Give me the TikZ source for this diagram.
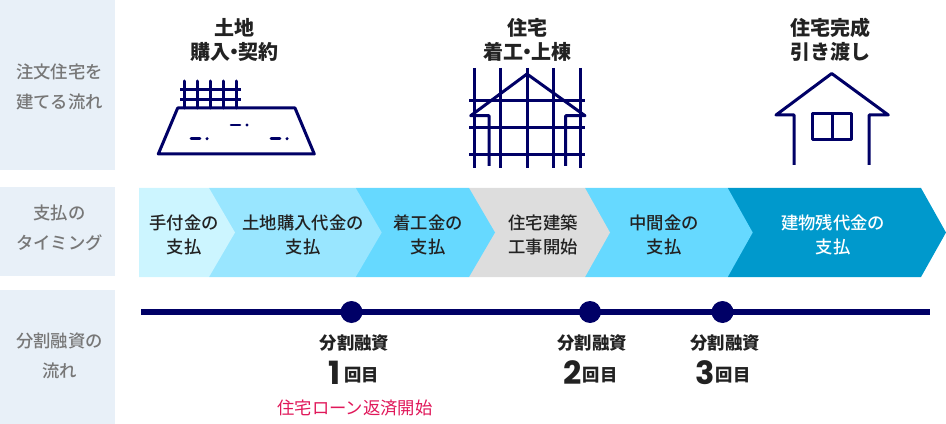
\documentclass[tikz,border=0pt]{standalone}
\usepackage{fontspec}
\usetikzlibrary{positioning}
\setmainfont{Noto Sans CJK JP}
\newfontfamily\medfont{Noto Sans CJK JP Medium}
\newfontfamily\numfont{Poppins}
\newcommand{\ndot}{\hspace{-4.5pt}・\hspace{-4.5pt}}
\definecolor{navy}{HTML}{000066}
\definecolor{sidebg}{HTML}{E8F0F8}
\definecolor{sidetxt}{HTML}{777777}
\definecolor{maintxt}{HTML}{222222}
\definecolor{loanred}{HTML}{E0185A}
\definecolor{pay1}{HTML}{CCF5FF}
\definecolor{pay2}{HTML}{99E6FF}
\definecolor{pay3}{HTML}{66D9FF}
\definecolor{pay4}{HTML}{DDDDDD}
\definecolor{pay5}{HTML}{0099CC}

\begin{document}
\begin{tikzpicture}[
			x=0.75pt, y=-0.75pt,
			side/.style = {align=center, inner sep=0pt, text=sidetxt, font=\fontsize{13}{22.5}\selectfont\medfont},
			head/.style = {align=center, inner sep=0pt, text=maintxt, font=\fontsize{15}{18}\selectfont\bfseries},
			pay/.style = {align=center, inner sep=0pt, text=maintxt, font=\fontsize{13}{18}\selectfont\medfont},
			loan/.style = {align=center, inner sep=0pt, text=maintxt, font=\fontsize{13}{16}\selectfont\bfseries},
			num/.style = {inner sep=0pt, text=maintxt, font=\fontsize{24}{24}\selectfont\numfont\bfseries},
			kai/.style = {inner sep=0pt, text=maintxt, font=\fontsize{13}{16}\selectfont\bfseries},
			dot/.style = {circle, fill=navy, inner sep=0pt, minimum size=22*0.75pt},
			icon/.style = {draw=navy, line width=2.25pt, line join=round},
			thin/.style = {draw=navy, line width=1.9pt, line cap=round}
		]
		\useasboundingbox (0,0) rectangle (946,424);

		% left column
		\fill[sidebg] (0,0) rectangle (115,170);
		\fill[sidebg] (0,187) rectangle (115,276);
		\fill[sidebg] (0,290) rectangle (115,424);
		\node[side] (flow) at (59.5,87) {注文住宅を\\建てる流れ};
		\node[side] (timing) at (59.5,228) {支払の\\タイミング};
		\node[side] (split) at (59.5,356) {分割融資の\\流れ};

		% headings
		\node[head] (land) at (234,40) {土地\\購入\ndot 契約};
		\node[head] (build) at (527,40) {住宅\\着工\ndot 上棟};
		\node[head] (done) at (830,40) {住宅完成\\引き渡し};

		% land
		\draw[icon] (177.7,108) -- (295,108) -- (314.3,154) -- (158.3,154) -- cycle;
		\draw[icon, line cap=round] (184,81) -- (184,108);
		\draw[icon, line cap=round] (197,81) -- (197,108);
		\draw[icon, line cap=round] (210,81) -- (210,108);
		\draw[icon, line cap=round] (223,81) -- (223,108);
		\draw[icon, line cap=round] (236,81) -- (236,108);
		\draw[icon] (180,89.5) -- (240.7,89.5);
		\draw[icon] (180,100) -- (240.7,100);
		\draw[thin] (231,125) -- (240,125);
		\fill[navy] (247,125) circle (1.7);
		\draw[thin] (191,138.7) -- (200,138.7);
		\fill[navy] (207,138.7) circle (1.7);
		\draw[thin] (271,138.7) -- (280,138.7);
		\fill[navy] (287,138.7) circle (1.7);

		% frame
		\draw[icon] (474.3,68) -- (474.3,168);
		\draw[icon] (500.7,68) -- (500.7,168);
		\draw[icon] (527,68) -- (527,168);
		\draw[icon] (553.3,68) -- (553.3,168);
		\draw[icon] (580,68) -- (580,168);
		\draw[icon] (469,100.7) -- (585,100.7);
		\draw[icon] (469,127.3) -- (585,127.3);
		\draw[icon] (469,154.3) -- (585,154.3);
		\draw[icon] (489,166) -- (489,115.7) -- (470.7,115.7) -- (527,74) -- (585,115.7) -- (565.7,115.7) -- (565.7,166);

		% house
		\draw[icon] (794,165) -- (794,115) -- (776,115) -- (831.7,73.5) -- (888.3,115) -- (869,115) -- (869,165);
		\draw[icon] (812.7,114) rectangle (851,140);
		\draw[icon] (832,114) -- (832,140);

		% payment band
		\fill[pay5] (727.7,188) -- (921,188) -- (946,232.5) -- (921,277) -- (727.7,277) -- cycle;
		\fill[pay3] (585,188) -- (727.7,188) -- (752.7,232.5) -- (727.7,277) -- (585,277) -- cycle;
		\fill[pay4] (469,188) -- (585,188) -- (610,232.5) -- (585,277) -- (469,277) -- cycle;
		\fill[pay3] (355.7,188) -- (469,188) -- (495,232.5) -- (469,277) -- (355.7,277) -- cycle;
		\fill[pay2] (209,188) -- (355.7,188) -- (381.7,232.5) -- (355.7,277) -- (209,277) -- cycle;
		\fill[pay1] (139,188) -- (209,188) -- (235,232.5) -- (209,277) -- (139,277) -- cycle;
		\node[pay] (p1) at (184,235) {手付金の\\支払};
		\node[pay] (p2) at (303,235) {土地購入代金の\\支払};
		\node[pay] (p3) at (428,235) {着工金の\\支払};
		\node[pay] (p4) at (543,235) {住宅建築\\工事開始};
		\node[pay] (p5) at (664,235) {中間金の\\支払};
		\node[pay, text=white] (p6) at (833,235) {建物残代金の\\支払};

		% loan line
		\coordinate (start) at (141,312);
		\coordinate (end) at (930,312);
		\draw[navy, line width=4.5pt] (start) -- (end);
		\node[dot] (d1) at (351.5,312) {};
		\node[dot] (d2) at (590,312) {};
		\node[dot] (d3) at (722.5,312) {};
		\node[loan] (l1) at (354.5,343) {分割融資};
		\node[loan] (l2) at (592,343) {分割融資};
		\node[loan] (l3) at (725,343) {分割融資};
		\node[num] (n1) at (335,373) {1};
		\node[kai] (k1) at (361.5,375) {回目};
		\node[num] (n2) at (573,373) {2};
		\node[kai] (k2) at (600,375) {回目};
		\node[num] (n3) at (705,373) {3};
		\node[kai] (k3) at (733,375) {回目};
		\node[inner sep=0pt, text=loanred, font=\fontsize{13}{16}\selectfont] (start loan) at (355,408) {住宅ローン返済開始};
	\end{tikzpicture}
\end{document}
